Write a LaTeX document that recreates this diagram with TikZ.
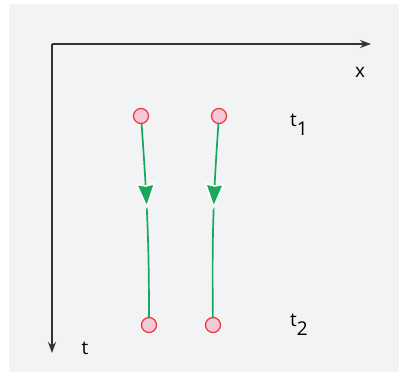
\documentclass[tikz,border=0pt]{standalone}
\usepackage{fontspec}
\setmainfont{Open Sans}
\usetikzlibrary{arrows.meta,decorations.markings}
\definecolor{bggray}{HTML}{F2F3F5}
\definecolor{axisgray}{HTML}{333333}
\definecolor{dotred}{HTML}{E83535}
\definecolor{dotpink}{HTML}{F8C8D8}
\definecolor{flowgreen}{HTML}{18A85A}
\tikzset{
  axis/.style={draw=axisgray, line width=1.4pt, -{Stealth[length=11pt,width=8pt]}},
  dot/.style={circle, draw=dotred, fill=dotpink, line width=1.2pt, minimum size=15pt, inner sep=0pt},
  lbl/.style={font=\fontsize{19}{22}\selectfont, text=black, inner sep=0pt},
  flow/.style={draw=flowgreen, line width=1.7pt,
    postaction={decorate},
    decoration={markings, mark=at position 0.42 with {
      \filldraw[fill=flowgreen, draw=white, line width=1.6pt, line join=miter]
        (2pt,0pt) -- (-21pt,9pt) -- (-19pt,0pt) -- (-21pt,-9pt) -- cycle;}}}
}
\begin{document}
\begin{tikzpicture}[x=1pt,y=-1pt]
\useasboundingbox (0,0) rectangle (399,378);
\fill[bggray] (9,4) rectangle (399,372);
\coordinate (o) at (52,44);
\coordinate (xe) at (371,44);
\coordinate (te) at (52,353);
\draw[axis] (o) -- (xe);
\draw[axis] (o) -- (te);
\node[lbl] (xl) at (360,72) {x};
\node[lbl] (tl) at (85,348) {t};
\node[lbl, anchor=base west] (t1) at (290,126) {t\raisebox{-9pt}{1}};
\node[lbl, anchor=base west] (t2) at (290,326) {t\raisebox{-9pt}{2}};
\node[dot] (a1) at (141,116) {};
\node[dot] (b1) at (219,116) {};
\node[dot] (a2) at (149,325) {};
\node[dot] (b2) at (213,325) {};
\draw[flow] (a1) .. controls (147,200) and (149,240) .. (a2);
\draw[flow] (b1) .. controls (213,200) and (212,240) .. (b2);
\end{tikzpicture}
\end{document}
